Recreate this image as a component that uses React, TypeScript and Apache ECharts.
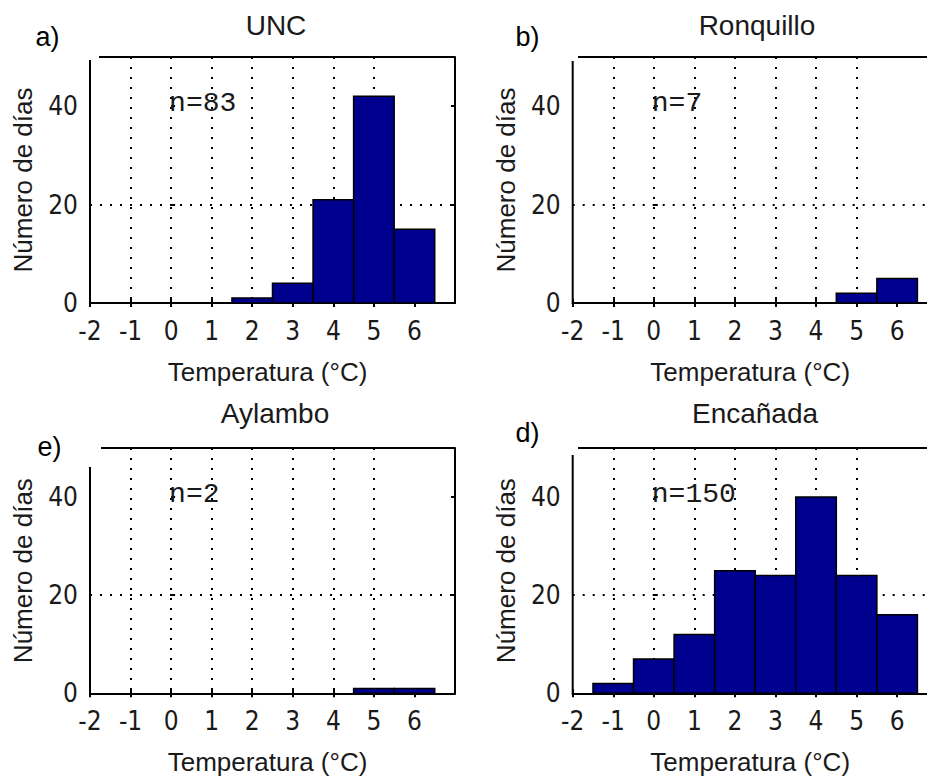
import React, { useEffect, useRef } from "react";
import * as echarts from "echarts";

// ---- data ----
const binCenters = [-1, 0, 1, 2, 3, 4, 5, 6];
const uncCounts = [0, 0, 0, 1, 4, 21, 42, 15];
const ronquilloCounts = [0, 0, 0, 0, 0, 0, 2, 5];
const aylamboCounts = [0, 0, 0, 0, 0, 0, 1, 1];
const encanadaCounts = [2, 7, 12, 25, 24, 40, 24, 16];
const stationNames = ["UNC", "Ronquillo", "Aylambo", "Encañada"];
const panelLetters = ["a)", "b)", "e)", "d)"];
const xTickLabels = [-2, -1, 0, 1, 2, 3, 4, 5, 6];
const yTickLabels = [0, 20, 40];
const xMin = -2;
const xMax = 7;
const yMin = 0;
const yMax = 50;

const countsList = [uncCounts, ronquilloCounts, aylamboCounts, encanadaCounts];

// ---- layout (pixels) ----
const layout = [
  { left: 90, top: 57, width: 365, height: 246, axisTop: 60, borderLeft: 99, letter: [47.5, 36.5], titleX: 271, titleY: 24 },
  { left: 572.7, top: 57, width: 365, height: 246, axisTop: 61, borderLeft: 578, letter: [527.5, 36.5], titleX: 752, titleY: 24 },
  { left: 90, top: 448, width: 365, height: 245.3, axisTop: 467, borderLeft: 101, letter: [49.5, 447], titleX: 270, titleY: 412 },
  { left: 572.7, top: 448, width: 365, height: 245.3, axisTop: 455, borderLeft: 578, letter: [527.5, 432.5], titleX: 750, titleY: 412 },
];

const tickFont = '"Liberation Sans Narrow", "DejaVu Sans Condensed", "Liberation Sans", sans-serif';
const nameFont = '"Liberation Sans", Arial, sans-serif';
const nFont = '"Liberation Mono", "DejaVu Sans Mono", monospace';
const textColor = "#1a1a1a";
const barFill = "#00008F";

export default function App() {
  const ref = useRef<HTMLDivElement>(null);

  useEffect(() => {
    if (!ref.current) return;
    const chart = echarts.init(ref.current, null, { renderer: "svg" });

    const grids = layout.map((p) => ({
      left: p.left,
      top: p.top,
      width: p.width,
      height: p.height,
      containLabel: false,
    }));

    const gridLineStyle = { type: [2, 8] as any, color: "#000", width: 2 };
    const axisStroke = { color: "#000", width: 2 };

    const xPrimary = layout.map((_, i) => ({
      type: "value",
      gridIndex: i,
      min: xMin,
      max: xMax,
      interval: 1,
      position: "bottom",
      axisLine: { show: true, onZero: false, lineStyle: axisStroke },
      axisTick: { show: true, inside: true, length: 4, lineStyle: axisStroke, customValues: xTickLabels },
      axisLabel: {
        show: true,
        customValues: xTickLabels,
        margin: 15,
        fontSize: 26,
        fontFamily: tickFont,
        color: textColor,
      },
      splitLine: { show: true, showMinLine: false, showMaxLine: false, lineStyle: gridLineStyle },
      name: "Temperatura (°C)",
      nameLocation: "middle",
      nameGap: 56,
      nameTextStyle: { fontSize: 26, fontFamily: nameFont, color: textColor, padding: [0, 10, 0, 0] },
    }));
    const xSecondary = layout.map((_, i) => ({
      type: "value",
      gridIndex: i,
      min: xMin,
      max: xMax,
      interval: 1,
      position: "top",
      axisLine: { show: false },
      axisTick: { show: true, inside: true, length: 4, lineStyle: axisStroke, customValues: xTickLabels },
      axisLabel: { show: false },
      splitLine: { show: false },
    }));

    const yPrimary = layout.map((_, i) => ({
      type: "value",
      gridIndex: i,
      min: yMin,
      max: yMax,
      interval: 20,
      position: "left",
      axisLine: { show: false },
      axisTick: { show: true, inside: true, length: 4, lineStyle: axisStroke, customValues: yTickLabels },
      axisLabel: {
        show: true,
        customValues: yTickLabels,
        margin: 12,
        fontSize: 26,
        fontFamily: tickFont,
        color: textColor,
      },
      splitLine: { show: true, showMinLine: false, showMaxLine: false, lineStyle: gridLineStyle },
      name: "Número de días",
      nameLocation: "middle",
      nameGap: 54,
      nameRotate: 90,
      nameTextStyle: { fontSize: 26, fontFamily: nameFont, color: textColor },
    }));
    const ySecondary = layout.map((_, i) => ({
      type: "value",
      gridIndex: i,
      min: yMin,
      max: yMax,
      interval: 20,
      position: "right",
      axisLine: { show: true, onZero: false, lineStyle: axisStroke },
      axisTick: { show: true, inside: true, length: 4, lineStyle: axisStroke, customValues: [20, 40] },
      axisLabel: { show: false },
      splitLine: { show: false },
    }));

    const series = countsList.map((counts, i) => ({
      type: "custom",
      xAxisIndex: i,
      yAxisIndex: i,
      clip: false,
      data: binCenters.map((c, k) => [c, counts[k]]),
      encode: { x: 0, y: 1 },
      renderItem: (params: any, api: any) => {
        const x = api.value(0);
        const y = api.value(1);
        if (!y) return null;
        const p0 = api.coord([x - 0.5, 0]);
        const p1 = api.coord([x + 0.5, y]);
        return {
          type: "rect",
          shape: { x: p0[0], y: p1[1], width: p1[0] - p0[0], height: p0[1] - p1[1] },
          style: { fill: barFill, stroke: "#000", lineWidth: 1.5 },
        };
      },
    }));

    const titles = layout.map((p, i) => ({
      text: stationNames[i],
      left: p.titleX,
      top: p.titleY - 18,
      textAlign: "center",
      textStyle: { fontSize: 28, fontWeight: "normal", fontFamily: nameFont, color: textColor },
    }));

    const graphics: any[] = [];
    layout.forEach((p, i) => {
      const bottom = p.top + p.height;
      graphics.push({
        type: "line",
        shape: { x1: p.borderLeft, y1: p.top, x2: p.left + p.width, y2: p.top },
        style: { stroke: "#000", lineWidth: 2 },
        z: 10,
      });
      graphics.push({
        type: "line",
        shape: { x1: p.left, y1: p.axisTop, x2: p.left, y2: bottom + 1 },
        style: { stroke: "#000", lineWidth: 2 },
        z: 10,
      });
      graphics.push({
        type: "text",
        x: p.letter[0],
        y: p.letter[1],
        style: {
          text: panelLetters[i],
          fontSize: 27,
          fontFamily: nameFont,
          fill: "#000",
          textAlign: "center",
          textVerticalAlign: "middle",
        },
        z: 10,
      });
      const total = countsList[i].reduce((a, b) => a + b, 0);
      const nx = p.left + ((0 - xMin) / (xMax - xMin)) * p.width;
      const ny = p.top + p.height * (1 - (40.6 - yMin) / (yMax - yMin));
      graphics.push({
        type: "text",
        x: nx - 2,
        y: ny,
        style: {
          text: "n=" + total,
          fontSize: 28,
          fontFamily: nFont,
          fill: textColor,
          textAlign: "left",
          textVerticalAlign: "middle",
        },
        z: 10,
      });
    });

    chart.setOption({
      animation: false,
      backgroundColor: "#ffffff",
      title: titles,
      grid: grids,
      xAxis: [...xPrimary, ...xSecondary],
      yAxis: [...yPrimary, ...ySecondary],
      series,
      graphic: graphics,
    });

    return () => chart.dispose();
  }, []);

  return (
    <div
      style={{ position: "fixed", left: 0, top: 0, width: 927, height: 782, overflow: "hidden", background: "#fff" }}
    >
      <div ref={ref} style={{ width: 960, height: 782 }} />
    </div>
  );
}
